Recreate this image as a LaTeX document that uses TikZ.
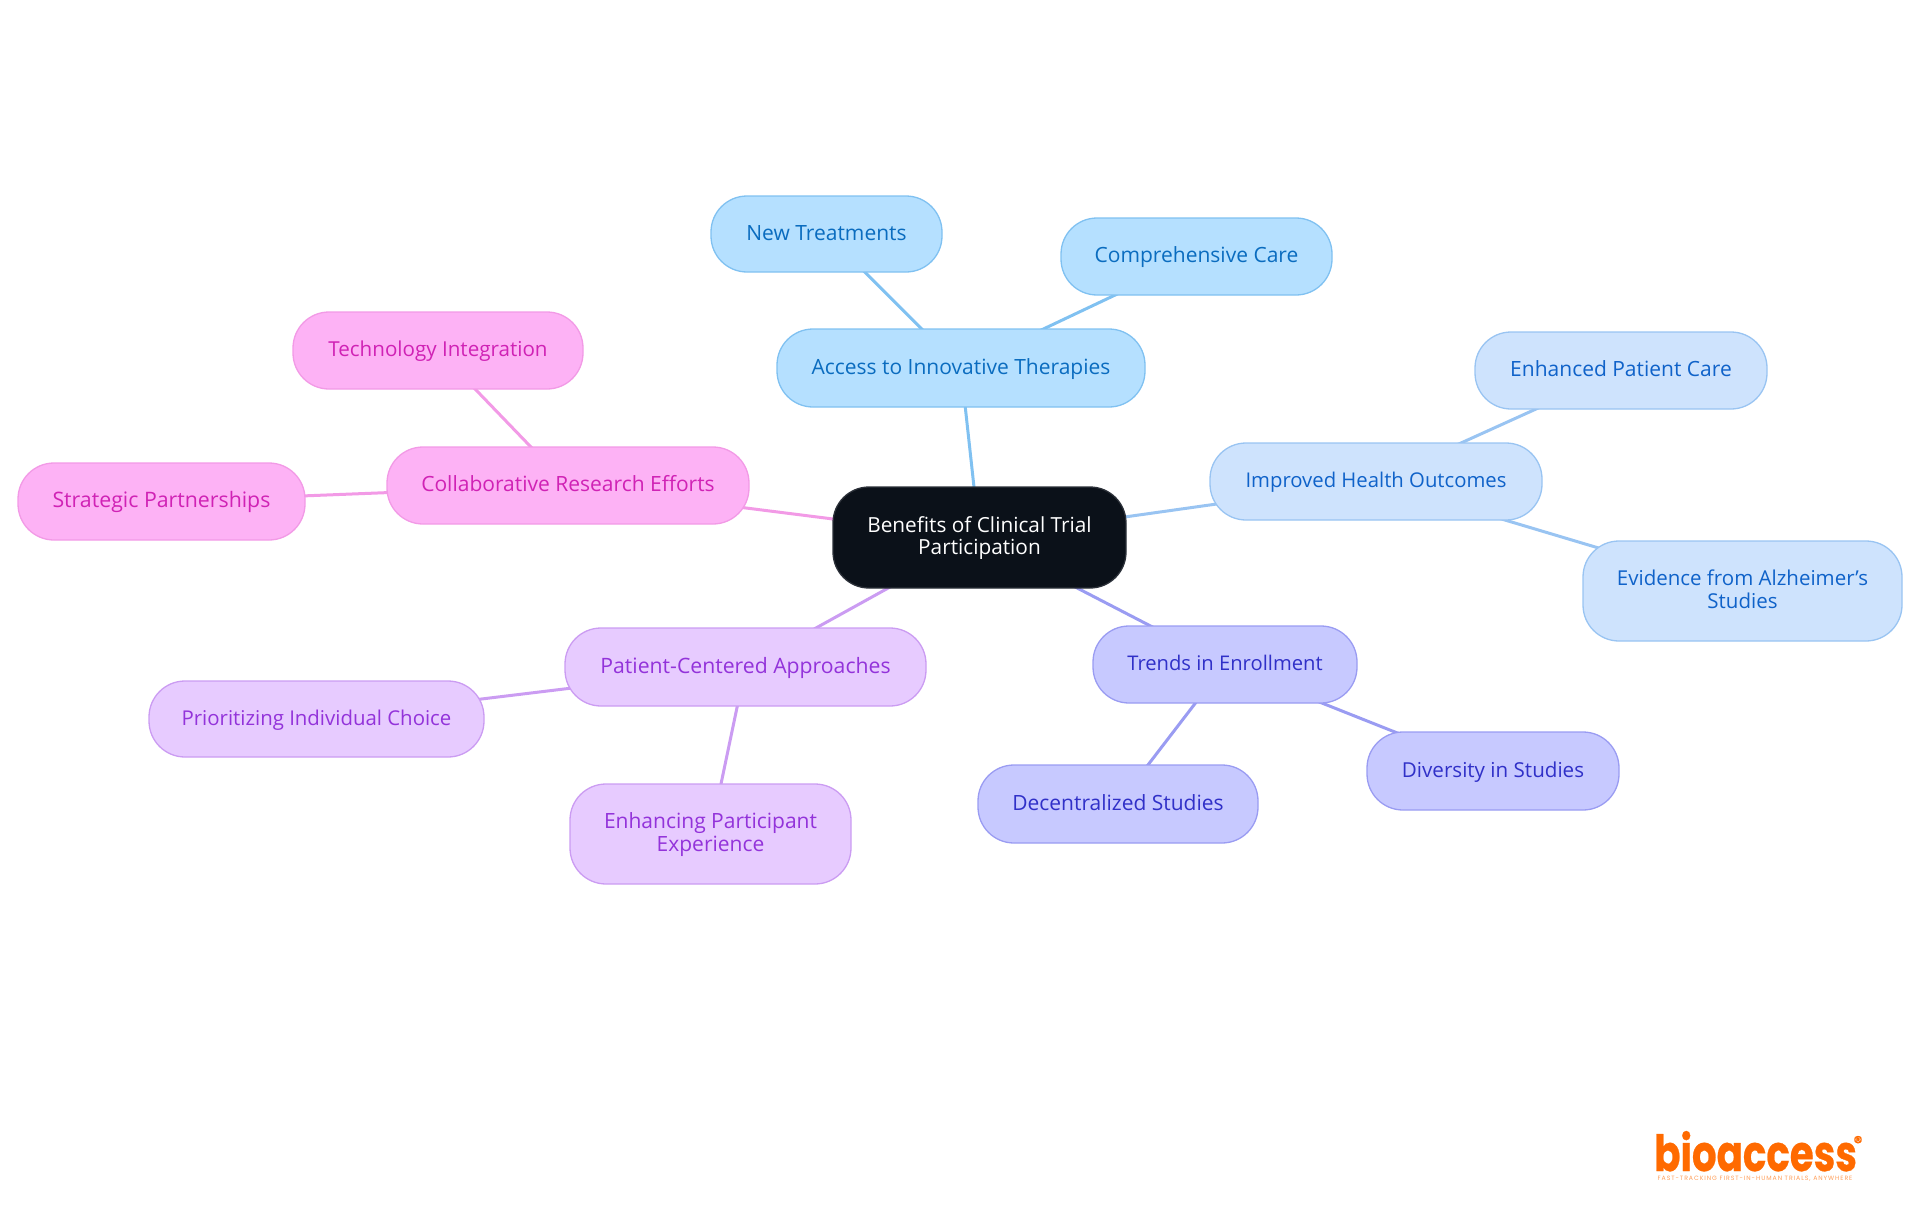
\documentclass[tikz,border=0pt]{standalone}
\usepackage{fontspec}
\usepackage{graphicx}
\usetikzlibrary{backgrounds}
\setmainfont{Open Sans}
\newfontfamily\logofont[BoldFeatures={FakeBold=0.6}]{Poppins}
\newfontfamily\tagfont[LetterSpace=15]{Poppins}
\definecolor{skyF}{HTML}{B5E0FF}\definecolor{skyL}{HTML}{80C1F1}\definecolor{skyT}{HTML}{0A6CBF}
\definecolor{bluF}{HTML}{CEE3FD}\definecolor{bluL}{HTML}{99C4F2}\definecolor{bluT}{HTML}{0F62C9}
\definecolor{indF}{HTML}{C7C9FF}\definecolor{indL}{HTML}{9A9CF2}\definecolor{indT}{HTML}{3030C8}
\definecolor{purF}{HTML}{E7CBFF}\definecolor{purL}{HTML}{CB9CF2}\definecolor{purT}{HTML}{9333DA}
\definecolor{pnkF}{HTML}{FDB2F5}\definecolor{pnkL}{HTML}{F29AE6}\definecolor{pnkT}{HTML}{D022B5}
\definecolor{rootF}{HTML}{0B1119}\definecolor{rootL}{HTML}{2B3038}
\definecolor{logoC}{HTML}{FF6A00}
\tikzset{
  x=1pt,y=-1pt,
  base/.style={rectangle,rounded corners=36pt,line width=1.3pt,inner sep=0pt,align=center,
     text height=17pt,text depth=5pt,font=\fontsize{21}{22.5}\selectfont},
  fs/.style={font=\fontsize{#1}{22.5}\selectfont},
  twolines/.style={text height=39.5pt,text depth=5pt},
  sky/.style={base,fill=skyF,draw=skyL,text=skyT},
  blu/.style={base,fill=bluF,draw=bluL,text=bluT},
  ind/.style={base,fill=indF,draw=indL,text=indT},
  pur/.style={base,fill=purF,draw=purL,text=purT},
  pnk/.style={base,fill=pnkF,draw=pnkL,text=pnkT},
  rootn/.style={base,fill=rootF,draw=rootL,text=white},
  skyE/.style={draw=skyL,line width=3pt},
  bluE/.style={draw=bluL,line width=3pt},
  indE/.style={draw=indL,line width=3pt},
  purE/.style={draw=purL,line width=3pt},
  pnkE/.style={draw=pnkL,line width=3pt},
}
\newcommand{\bx}[7]{\node[#1,minimum width=#5 pt-#4 pt,minimum height=#7 pt-#6 pt] (#2) at ({(#4+#5)/2},{(#6+#7)/2}) {#3};}
\begin{document}
\begin{tikzpicture}
\useasboundingbox (0,0) rectangle (1920,1215);
\bx{rootn,fs=20.8,twolines}{root}{Benefits of Clinical Trial\\Participation}{833}{1126}{487}{588}
\bx{sky}{access}{Access to Innovative Therapies}{777}{1145}{329}{407}
\bx{sky}{newt}{New Treatments}{711}{942}{196}{272}
\bx{sky}{comp}{Comprehensive Care}{1061}{1332}{218}{295}
\bx{blu,fs=20.3}{impr}{Improved Health Outcomes}{1210}{1542}{443}{520}
\bx{blu}{enh}{Enhanced Patient Care}{1475}{1767}{332}{409}
\bx{blu,fs=20.5,twolines}{evid}{Evidence from Alzheimer's\\Studies}{1583}{1902}{541}{641}
\bx{ind,fs=20.2}{trend}{Trends in Enrollment}{1093}{1357}{626}{703}
\bx{ind}{decen}{Decentralized Studies}{978}{1258}{765}{843}
\bx{ind,fs=20.6}{diver}{Diversity in Studies}{1367}{1619}{732}{810}
\bx{pur,fs=21.2}{patc}{Patient-Centered Approaches}{565}{926}{628}{706}
\bx{pur,fs=20.4}{prio}{Prioritizing Individual Choice}{149}{484}{681}{757}
\bx{pur,twolines}{enhp}{Enhancing Participant\\Experience}{570}{851}{784}{884}
\bx{pnk}{coll}{Collaborative Research Efforts}{387}{749}{447}{524}
\bx{pnk,fs=20.6}{tech}{Technology Integration}{293}{583}{312}{389}
\bx{pnk,fs=21.3}{strat}{Strategic Partnerships}{18}{305}{463}{540}
\begin{pgfonlayer}{background}
\draw[skyE] (root.center) -- (access.center);
\draw[skyE] (access.center) -- (newt.center);
\draw[skyE] (access.center) -- (comp.center);
\draw[bluE] (root.center) -- (impr.center);
\draw[bluE] (impr.center) -- (enh.center);
\draw[bluE] (impr.center) -- (evid.center);
\draw[indE] (root.center) -- (trend.center);
\draw[indE] (trend.center) -- (decen.center);
\draw[indE] (trend.center) -- (diver.center);
\draw[purE] (root.center) -- (patc.center);
\draw[purE] (patc.center) -- (prio.center);
\draw[purE] (patc.center) -- (enhp.center);
\draw[pnkE] (root.center) -- (coll.center);
\draw[pnkE] (coll.center) -- (tech.center);
\draw[pnkE] (coll.center) -- (strat.center);
\end{pgfonlayer}
\node[anchor=base west,inner sep=0pt,text=logoC,font=\logofont\bfseries\fontsize{50}{50}\selectfont] (logo) at (1654,1171) {\scalebox{0.775}[1]{bioaccess}};
\node[anchor=center,inner sep=0pt,text=logoC,font=\logofont\bfseries\fontsize{17}{17}\selectfont] (reg) at (1858,1142) {®};
\node[anchor=center,inner sep=0pt,text=logoC!65,font=\tagfont\fontsize{6.2}{6.2}\selectfont] (tag) at (1755,1178.5) {FAST-TRACKING FIRST-IN-HUMAN TRIALS, ANYWHERE};
\end{tikzpicture}
\end{document}
